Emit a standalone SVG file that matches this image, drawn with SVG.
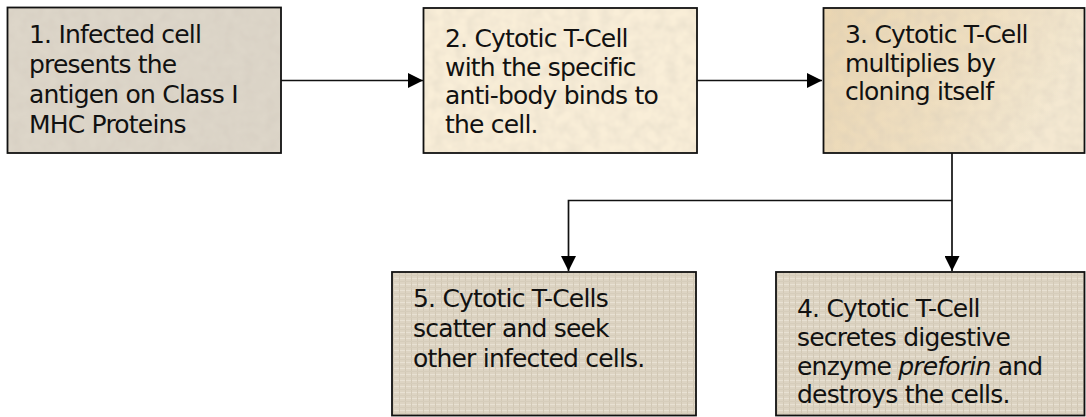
<svg xmlns="http://www.w3.org/2000/svg" width="1086" height="417" viewBox="0 0 1086 417">
<style>
.lbl{font-family:"DejaVu Sans","Liberation Sans",sans-serif;font-size:25px;letter-spacing:-0.8px;fill:#111}
.bd{fill:none;stroke:#111;stroke-width:1.8}
.ln{fill:none;stroke:#111;stroke-width:1.7}
</style>
<defs>
<marker id="ah" markerUnits="userSpaceOnUse" markerWidth="16" markerHeight="15" refX="15" refY="7.5" orient="auto">
<path d="M0,0 L15,7.5 L0,15 Z" fill="#000"/>
</marker>
<filter id="tex" x="0" y="0" width="100%" height="100%">
<feTurbulence type="fractalNoise" baseFrequency="0.09" numOctaves="2" seed="4" result="n"/>
<feColorMatrix in="n" type="matrix" values="0 0 0 0 0.6  0 0 0 0 0.55  0 0 0 0 0.47  0 0 0 0.5 -0.15" result="c"/>
<feComposite in="c" in2="SourceGraphic" operator="in" result="ci"/>
<feMerge><feMergeNode in="SourceGraphic"/><feMergeNode in="ci"/></feMerge>
</filter>
<pattern id="canvas" width="6" height="6" patternUnits="userSpaceOnUse">
<rect width="6" height="6" fill="#ddd4c3"/>
<rect x="0" y="2" width="6" height="1" fill="#e8e1d3"/>
<rect x="3" y="0" width="1" height="6" fill="#d2c8b5"/>
<rect x="0" y="5" width="6" height="1" fill="#d6cdbb"/>
</pattern>
<linearGradient id="g3" x1="0" y1="0" x2="1" y2="0.3">
<stop offset="0" stop-color="#ead6b2"/>
<stop offset="0.6" stop-color="#efdfc1"/>
<stop offset="1" stop-color="#f4e8d1"/>
</linearGradient>
</defs>

<g id="connectors">
<line class="ln" x1="281" y1="80.5" x2="423" y2="80.5" marker-end="url(#ah)"/>
<line class="ln" x1="697" y1="80.5" x2="822" y2="80.5" marker-end="url(#ah)"/>
<line class="ln" x1="952" y1="153" x2="952" y2="271" marker-end="url(#ah)"/>
<polyline class="ln" points="952,200.5 568.5,200.5 568.5,271" marker-end="url(#ah)"/>
</g>

<g id="node1">
<rect x="7.5" y="7.5" width="273.5" height="145.5" fill="#ddd6c9" filter="url(#tex)"/>
<rect class="bd" x="7.5" y="7.5" width="273.5" height="145.5"/>
<text class="lbl"><tspan x="29" y="43">1. Infected cell</tspan><tspan x="29" y="73">presents the</tspan><tspan x="29" y="103">antigen on Class I</tspan><tspan x="29" y="133">MHC Proteins</tspan></text>
</g>

<g id="node2">
<rect x="423.5" y="8" width="273.5" height="145" fill="#f9eed8" filter="url(#tex)"/>
<rect class="bd" x="423.5" y="8" width="273.5" height="145"/>
<text class="lbl"><tspan x="445" y="47">2. Cytotic T-Cell</tspan><tspan x="445" y="75.5">with the specific</tspan><tspan x="445" y="104">anti-body binds to</tspan><tspan x="445" y="132.5">the cell.</tspan></text>
</g>

<g id="node3">
<rect x="823.5" y="8" width="261" height="145" fill="url(#g3)" filter="url(#tex)"/>
<rect class="bd" x="823.5" y="8" width="261" height="145"/>
<text class="lbl"><tspan x="845" y="43">3. Cytotic T-Cell</tspan><tspan x="845" y="71.5">multiplies by</tspan><tspan x="845" y="100">cloning itself</tspan></text>
</g>

<g id="node5">
<rect x="392" y="272" width="304" height="143.5" fill="url(#canvas)"/>
<rect class="bd" x="392" y="272" width="304" height="143.5"/>
<text class="lbl"><tspan x="413" y="307">5. Cytotic T-Cells</tspan><tspan x="413" y="337">scatter and seek</tspan><tspan x="413" y="367">other infected cells.</tspan></text>
</g>

<g id="node4">
<rect x="776" y="272" width="308.5" height="143.5" fill="url(#canvas)"/>
<rect class="bd" x="776" y="272" width="308.5" height="143.5"/>
<text class="lbl"><tspan x="797" y="316.5">4. Cytotic T-Cell</tspan><tspan x="797" y="345.5">secretes digestive</tspan><tspan x="797" y="374.5">enzyme <tspan font-style="italic">preforin</tspan> and</tspan><tspan x="797" y="403">destroys the cells.</tspan></text>
</g>
</svg>
